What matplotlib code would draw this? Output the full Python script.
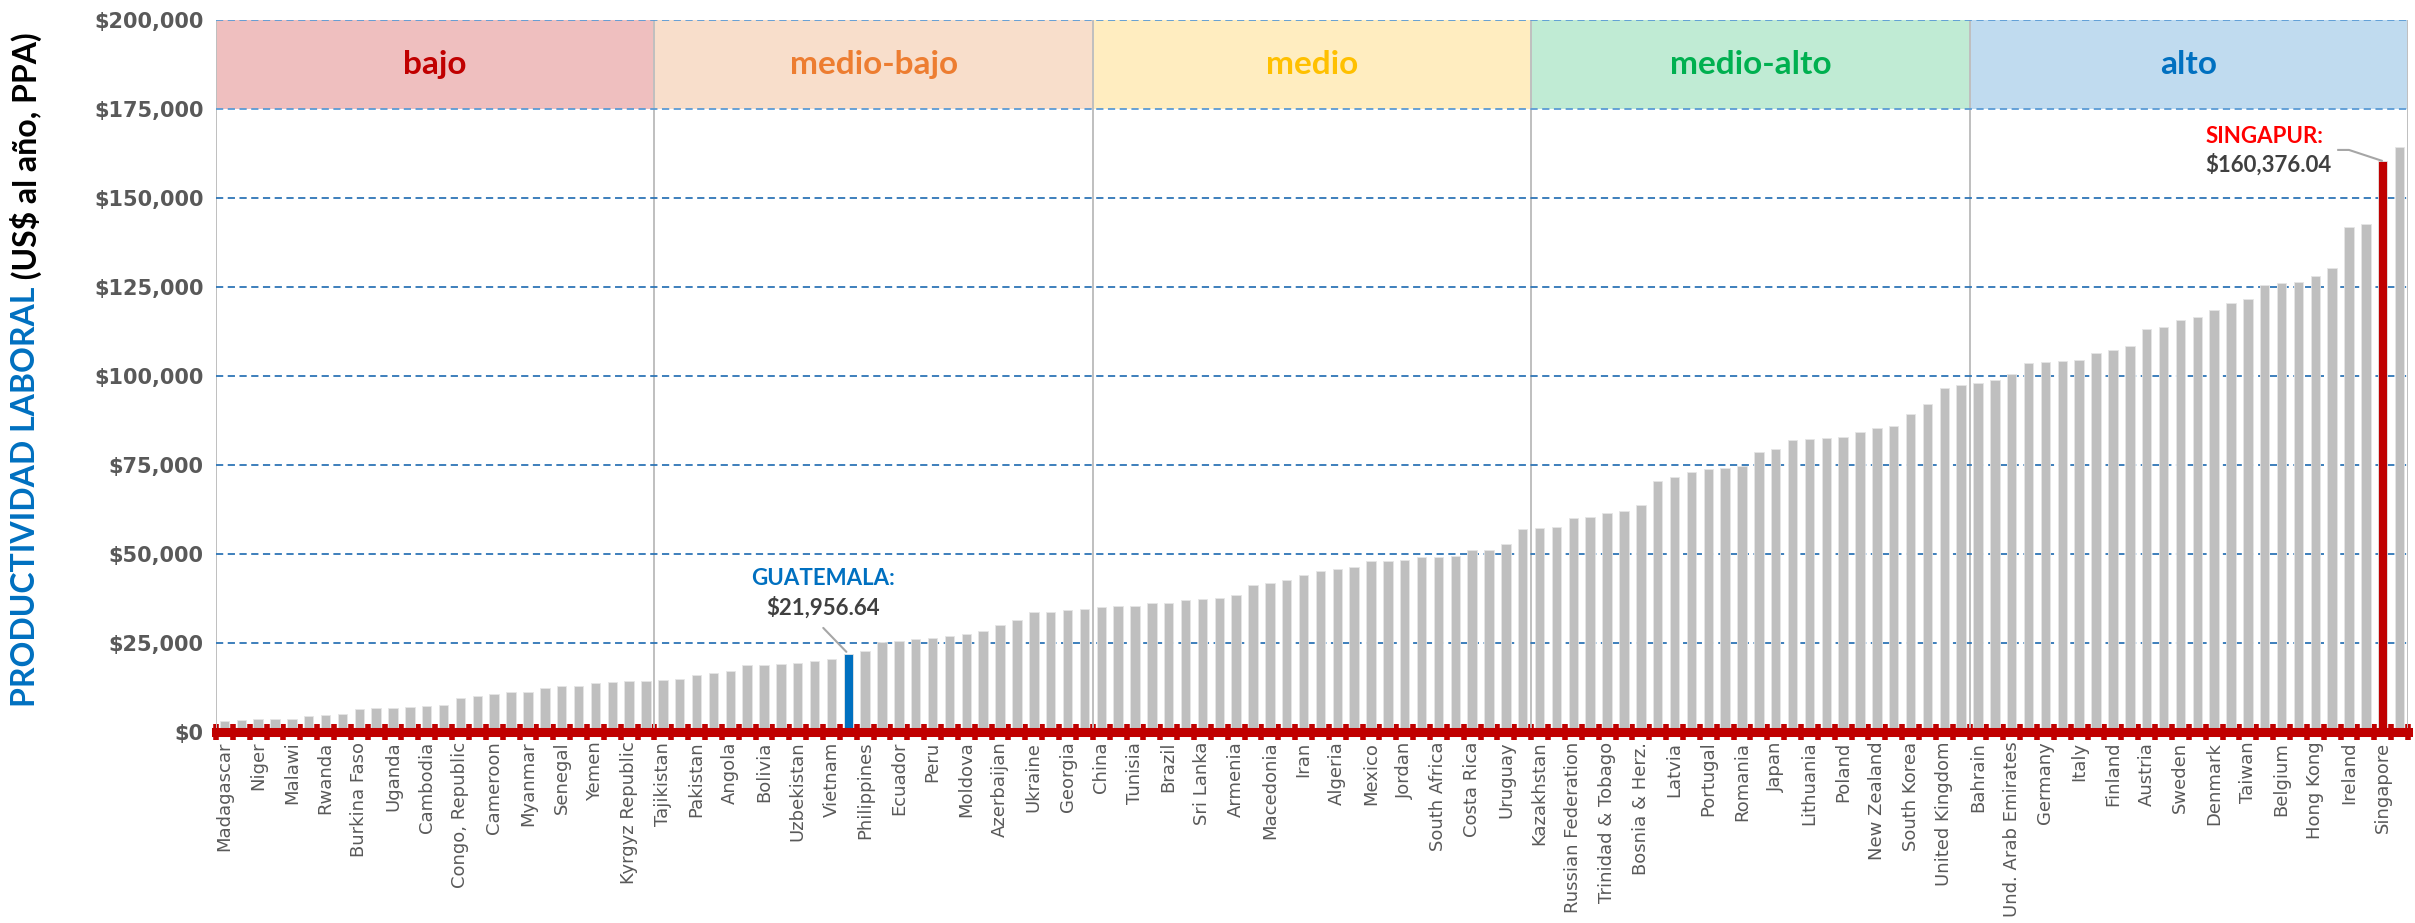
import matplotlib
matplotlib.use("Agg")
import matplotlib.pyplot as plt
from matplotlib.ticker import FuncFormatter, FixedLocator
import numpy as np

# ---------------- data ----------------
labeled_countries = [
    "Madagascar", "Niger", "Malawi", "Rwanda", "Burkina Faso", "Uganda", "Cambodia",
    "Congo, Republic", "Cameroon", "Myanmar", "Senegal", "Yemen", "Kyrgyz Republic",
    "Tajikistan", "Pakistan", "Angola", "Bolivia", "Uzbekistan", "Vietnam", "Philippines",
    "Ecuador", "Peru", "Moldova", "Azerbaijan", "Ukraine", "Georgia",
    "China", "Tunisia", "Brazil", "Sri Lanka", "Armenia", "Macedonia", "Iran", "Algeria",
    "Mexico", "Jordan", "South Africa", "Costa Rica", "Uruguay",
    "Kazakhstan", "Russian Federation", "Trinidad & Tobago", "Bosnia & Herz.", "Latvia",
    "Portugal", "Romania", "Japan", "Lithuania", "Poland", "New Zealand", "South Korea",
    "United Kingdom",
    "Bahrain", "Und. Arab Emirates", "Germany", "Italy", "Finland", "Austria", "Sweden",
    "Denmark", "Taiwan", "Belgium", "Hong Kong", "Ireland", "Singapore",
]

values = [
    3090, 3450, 3650, 3650, 3650, 4500, 4690, 5060, 6550, 6830,
    6830, 7110, 7400, 7580, 9550, 10110, 10580, 11240, 11330, 12270,
    12920, 12920, 13670, 14050, 14330, 14330, 14610, 14980, 16100, 16670,
    17040, 18730, 18820, 19100, 19290, 19940, 20500, 21956.64, 22850, 25280,
    25560, 26120, 26500, 26870, 27530, 28270, 30140, 31460, 33800, 33800,
    34180, 34460, 35110, 35390, 35390, 36240, 36240, 37000, 37270, 37550,
    38480, 41290, 41850, 42600, 44100, 45220, 45790, 46350, 48040, 48040,
    48320, 49070, 49260, 49440, 51130, 51130, 52720, 57020, 57300, 57500,
    60030, 60300, 61430, 62180, 63680, 70420, 71730, 73130, 73880, 74070,
    74820, 78740, 79500, 81940, 82310, 82500, 82870, 84270, 85390, 86050,
    89330, 92140, 96730, 97600, 97940, 98740, 100570, 103550, 103900, 104240,
    104470, 106410, 107330, 108470, 113170, 113630, 115800, 116600, 118550, 120500,
    121640, 125540, 126230, 126450, 128170, 130230, 141800, 142600, 160376.04, 164350,
]

groups = ["bajo", "medio-bajo", "medio", "medio-alto", "alto"]
group_size = 26
group_fill = ["#EFBFBF", "#F8DECB", "#FFEDC0", "#C0EBD4", "#C0DBEF"]
group_text = ["#C00000", "#ED7D31", "#FFC000", "#00B050", "#0070C0"]

guatemala_idx = 37
singapore_idx = 128
yticks = list(range(0, 200001, 25000))

# ---------------- figure ----------------
W, H = 2415, 923
fig = plt.figure(figsize=(W / 100, H / 100), dpi=100)
ax = fig.add_axes([216 / W, 1 - 732 / H, (2408 - 216) / W, (732 - 20) / H])

n = len(values)
x = np.arange(n)
colors = ["#BFBFBF"] * n
colors[guatemala_idx] = "#0070C0"
colors[singapore_idx] = "#C00000"

ax.bar(x, values, width=0.56, color=colors, edgecolor="#E6E6E6", linewidth=0.6, zorder=3)

# header bands
for g, name in enumerate(groups):
    center = g * group_size + (group_size - 1) / 2
    ax.bar(center, 25000, bottom=175000, width=group_size, color=group_fill[g],
           linewidth=0, zorder=1)
    ax.text(center, 187500, name, ha="center", va="center", fontsize=24,
            fontweight="bold", family="Lato", color=group_text[g], zorder=5)

# vertical dividers
for b in range(len(groups) + 1):
    ax.axvline(b * group_size - 0.5, color="#BFBFBF", lw=1.4, zorder=2)

# gridlines
for yv in yticks[1:]:
    c = "#5B9BD5" if yv >= 175000 else "#2E75B6"
    ax.axhline(yv, color=c, lw=1.3, ls=(0, (4, 2.5)), zorder=2)

ax.set_xlim(-0.5, n - 0.5)
ax.set_ylim(0, 200000)

for s in ["top", "right", "left"]:
    ax.spines[s].set_visible(False)
ax.spines["bottom"].set_color("#C00000")
ax.spines["bottom"].set_linewidth(6.5)
ax.spines["bottom"].set_zorder(6)

# y axis
ax.set_yticks(yticks)
ax.yaxis.set_major_formatter(FuncFormatter(lambda v, p: f"${v:,.0f}"))
ax.tick_params(axis="y", length=0, pad=9, labelsize=15, labelcolor="#595959")
for lab in ax.get_yticklabels():
    lab.set_fontweight("bold")

# x axis: labels every other bar, cross tick marks at bar boundaries
ax.set_xticks(x[::2])
ax.set_xticklabels(labeled_countries, rotation=90, fontsize=13, color="#595959")
ax.tick_params(axis="x", which="major", length=0, pad=7)
ax.xaxis.set_minor_locator(FixedLocator(np.arange(-0.5, n, 1.0)))
ax.tick_params(axis="x", which="minor", direction="inout", length=11, width=4,
               color="#C00000")

# y label (two colors)
t1 = fig.text(26 / W, 1 - 707 / H, "PRODUCTIVIDAD LABORAL", rotation=90,
              ha="center", va="bottom", fontsize=23, fontweight="bold",
              family="Lato", color="#0070C0")
fig.canvas.draw()
plt.annotate(" (US$ al año, PPA)", xy=(0.5, 1.0), xycoords=t1, rotation=90,
             ha="center", va="bottom", fontsize=23, fontweight="bold",
             family="Lato", color="#000000", annotation_clip=False)

# annotations
ax.text(35.5, 43000, "GUATEMALA:", ha="center", va="center", fontsize=16,
        fontweight="bold", family="Lato", color="#0070C0", zorder=7)
ax.text(35.5, 34850, f"${values[guatemala_idx]:,.2f}", ha="center", va="center",
        fontsize=16, fontweight="bold", family="Lato", color="#404040", zorder=7)
ax.annotate("", xy=(guatemala_idx, values[guatemala_idx]), xytext=(35.4, 29800),
            arrowprops=dict(arrowstyle="-", color="#A6A6A6", lw=1.5), zorder=7)

ax.text(121.0, 167200, "SINGAPUR:", ha="center", va="center", fontsize=16,
        fontweight="bold", family="Lato", color="#FF0000", zorder=7)
ax.text(121.2, 159300, f"${values[singapore_idx]:,.2f}", ha="center", va="center",
        fontsize=16, fontweight="bold", family="Lato", color="#404040", zorder=7)
ax.plot([125.3, 126.0, singapore_idx], [163500, 163500, values[singapore_idx]],
        color="#A6A6A6", lw=1.5, zorder=7, solid_capstyle="butt")

fig.savefig("out.png", dpi=100)
